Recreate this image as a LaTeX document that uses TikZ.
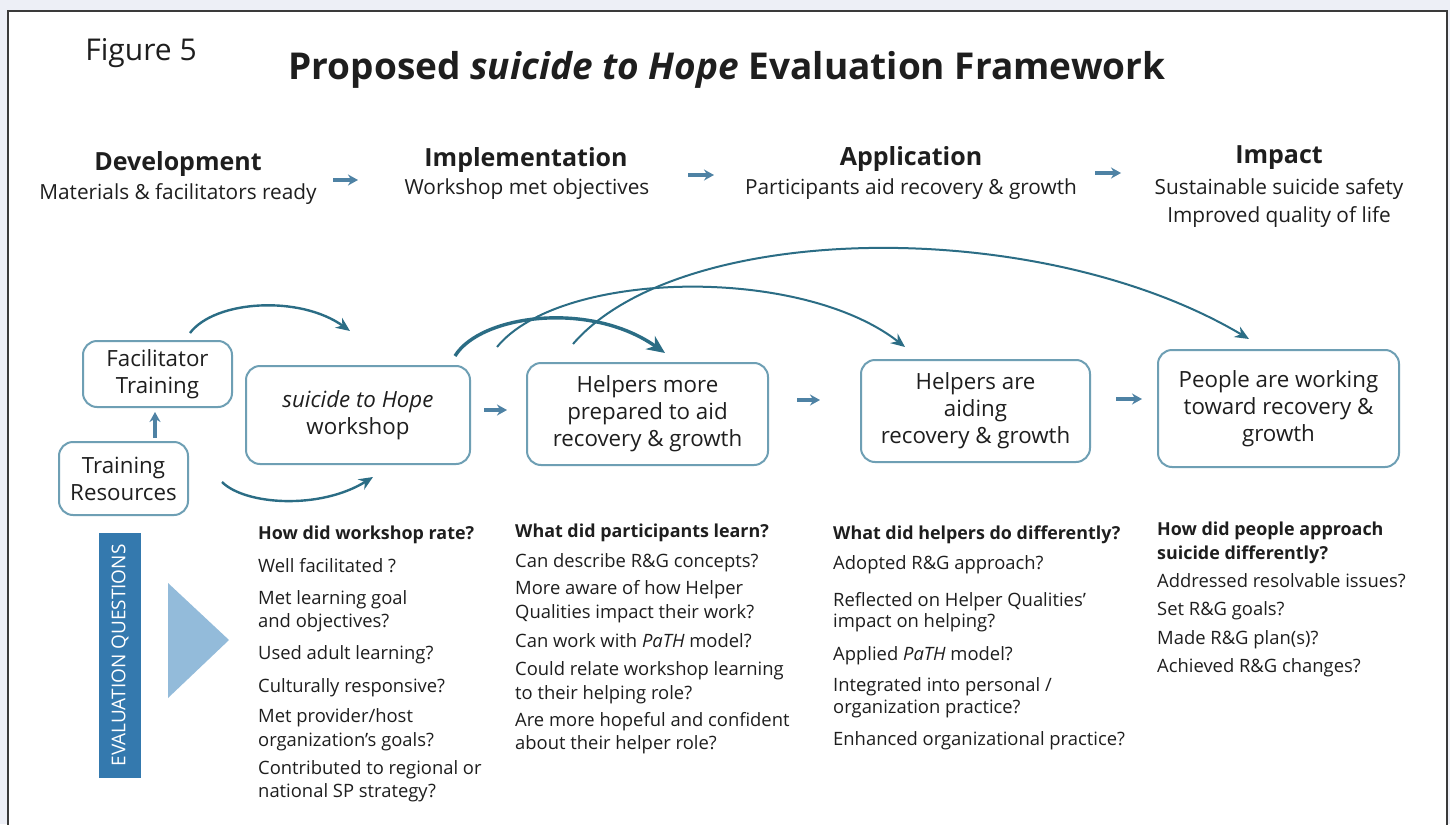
\documentclass[tikz,border=0pt]{standalone}
\usepackage{fontspec}
\setmainfont{Open Sans}
\usetikzlibrary{arrows.meta}
\definecolor{bgout}{HTML}{EDEFF6}
\definecolor{framec}{HTML}{3A3A3A}
\definecolor{txt}{HTML}{1E1E1E}
\definecolor{boxc}{HTML}{6E9FB4}
\definecolor{carc}{HTML}{2B6D85}
\definecolor{sarc}{HTML}{4E82A4}
\definecolor{evalc}{HTML}{3479AE}
\definecolor{tric}{HTML}{93BBDA}
\begin{document}
\begin{tikzpicture}[x=1pt,y=-1pt,
  hdr/.style={font=\bfseries\fontsize{25}{30}\selectfont, text=txt, inner sep=0},
  subt/.style={font=\fontsize{20.8}{28}\selectfont, text=txt, inner sep=0, align=center},
  flowbox/.style={draw=boxc, line width=2, rounded corners=14, align=center,
     font=\fontsize{22.3}{27}\selectfont, text=txt, inner sep=0, fill=white},
  qtxt/.style={anchor=mid west, inner sep=0, font=\fontsize{18.4}{22}\selectfont, text=txt},
  qhead/.style={qtxt, font=\bfseries\fontsize{17.9}{22}\selectfont},
  sarrow/.style={-{Stealth[length=10,width=11]}, line width=3.2, draw=sarc},
  carrow/.style={-{Stealth[length=14,width=12]}, line width=2.4, draw=carc},
  carrowbig/.style={-{Stealth[length=18,width=16]}, line width=3.4, draw=carc},
]
\useasboundingbox (0,0) rectangle (1450,824);
\fill[bgout] (0,0) rectangle (1450,824);
\fill[white] (8,11) rectangle (1447,830);
\draw[framec, line width=1.5] (8,830) -- (8,11) -- (1447,11) -- (1447,830);

% titles
\node[text=txt, inner sep=0, font=\fontsize{30}{34}\selectfont] (fig) at (141,53) {Figure 5};
\node[text=txt, inner sep=0, font=\bfseries\fontsize{37}{44}\selectfont] (title) at (727,70)
  {Proposed \textit{suicide to Hope} Evaluation Framework};

% stages
\node[hdr] (dev) at (178,164) {Development};
\node[subt] (devs) at (178,194) {Materials \& facilitators ready};
\node[hdr] (imp) at (526,160) {Implementation};
\node[subt] (imps) at (527,189) {Workshop met objectives};
\node[hdr] (app) at (911,159) {Application};
\node[subt] (apps) at (911,189) {Participants aid recovery \& growth};
\node[hdr] (ipc) at (1279,158) {Impact};
\node[subt] (ipcs) at (1279,203) {Sustainable suicide safety\\Improved quality of life};

\coordinate (t1s) at (333,180); \coordinate (t1e) at (358,180);
\coordinate (t2s) at (688,175); \coordinate (t2e) at (714,175);
\coordinate (t3s) at (1095,173); \coordinate (t3e) at (1121,173);
\draw[sarrow] (t1s) -- (t1e);
\draw[sarrow] (t2s) -- (t2e);
\draw[sarrow] (t3s) -- (t3e);

% boxes
\node[flowbox, minimum width=149, minimum height=66] (ft) at (157.5,374) {Facilitator\\Training};
\node[flowbox, minimum width=129, minimum height=73] (tr) at (123.5,478.5) {Training\\Resources};
\node[flowbox, minimum width=224, minimum height=98] (ws) at (358,415) {\textit{suicide to Hope}\\workshop};
\node[flowbox, minimum width=241, minimum height=102] (hp) at (647.5,414) {Helpers more\\prepared to aid\\recovery \& growth};
\node[flowbox, minimum width=229, minimum height=102] (ha) at (975.5,411) {Helpers are\\aiding\\recovery \& growth};
\node[flowbox, minimum width=241, minimum height=117] (pw) at (1278.5,408.5) {People are working\\toward recovery \&\\growth};

% small arrows between boxes
\coordinate (u1s) at (155,438); \coordinate (u1e) at (155,412);
\draw[sarrow] (u1s) -- (u1e);
\coordinate (b1s) at (484,410); \coordinate (b1e) at (507,410);
\coordinate (b2s) at (797,400); \coordinate (b2e) at (820,400);
\coordinate (b3s) at (1116,399); \coordinate (b3e) at (1142,399);
\draw[sarrow] (b1s) -- (b1e);
\draw[sarrow] (b2s) -- (b2e);
\draw[sarrow] (b3s) -- (b3e);

% curved arrows
\coordinate (c1s) at (190,333); \coordinate (c1e) at (350,331);
\draw[carrow] (c1s) .. controls (215,300) and (300,295) .. (c1e);
\coordinate (c2s) at (222,482); \coordinate (c2e) at (373,477);
\draw[carrow] (c2s) .. controls (245,505) and (320,510) .. (c2e);
\coordinate (cAs) at (455,356); \coordinate (cAe) at (665,353);
\draw[carrowbig] (cAs) .. controls (480,315) and (590,300) .. (cAe);
\coordinate (cBs) at (497,347); \coordinate (cBe) at (905,347);
\draw[carrow, line width=2] (cBs) .. controls (560,270) and (800,265) .. (cBe);
\coordinate (cCs) at (573,344); \coordinate (cCe) at (1249,339);
\draw[carrow, line width=2] (cCs) .. controls (680,220) and (1040,215) .. (cCe);

% evaluation questions bar
\fill[evalc] (99,533) rectangle (141,778);
\node[rotate=90, text=white, inner sep=0, font=\fontsize{19}{24}\selectfont] (evq) at (120,655.5) {EVALUATION QUESTIONS};
\fill[tric] (168,583) -- (168,698) -- (229,640) -- cycle;

% question columns
\node[qhead] (c1h) at (258,537) {How did workshop rate?};
\foreach \y/\t [count=\i] in {570/{Well facilitated ?}, 602/{Met learning goal}, 625/{and objectives?},
   657/{Used adult learning?}, 690/{Culturally responsive?}, 720/{Met provider/host},
   744/{organization’s goals?}, 772/{Contributed to regional or}, 795/{national SP strategy?}}
  \node[qtxt] (c1-\i) at (258,\y) {\t};

\node[qhead] (c2h) at (515,535) {What did participants learn?};
\foreach \y/\t [count=\i] in {565/{Can describe R\&G concepts?}, 592/{More aware of how Helper},
   616/{Qualities impact their work?}, 645/{Can work with \textit{PaTH} model?},
   673/{Could relate workshop learning}, 697/{to their helping role?},
   724/{Are more hopeful and confident}, 747/{about their helper role?}}
  \node[qtxt] (c2-\i) at (515,\y) {\t};

\node[qhead] (c3h) at (833,537) {What did helpers do differently?};
\foreach \y/\t [count=\i] in {567/{Adopted R\&G approach?}, 604/{Reflected on Helper Qualities’},
   625/{impact on helping?}, 658/{Applied \textit{PaTH} model?},
   689/{Integrated into personal /}, 711/{organization practice?},
   743/{Enhanced organizational practice?}}
  \node[qtxt] (c3-\i) at (833,\y) {\t};

\node[qhead] (c4h) at (1157,533) {How did people approach};
\node[qhead] (c4h2) at (1157,557) {suicide differently?};
\foreach \y/\t [count=\i] in {585/{Addressed resolvable issues?}, 613/{Set R\&G goals?},
   642/{Made R\&G plan(s)?}, 670/{Achieved R\&G changes?}}
  \node[qtxt] (c4-\i) at (1157,\y) {\t};
\end{tikzpicture}
\end{document}
